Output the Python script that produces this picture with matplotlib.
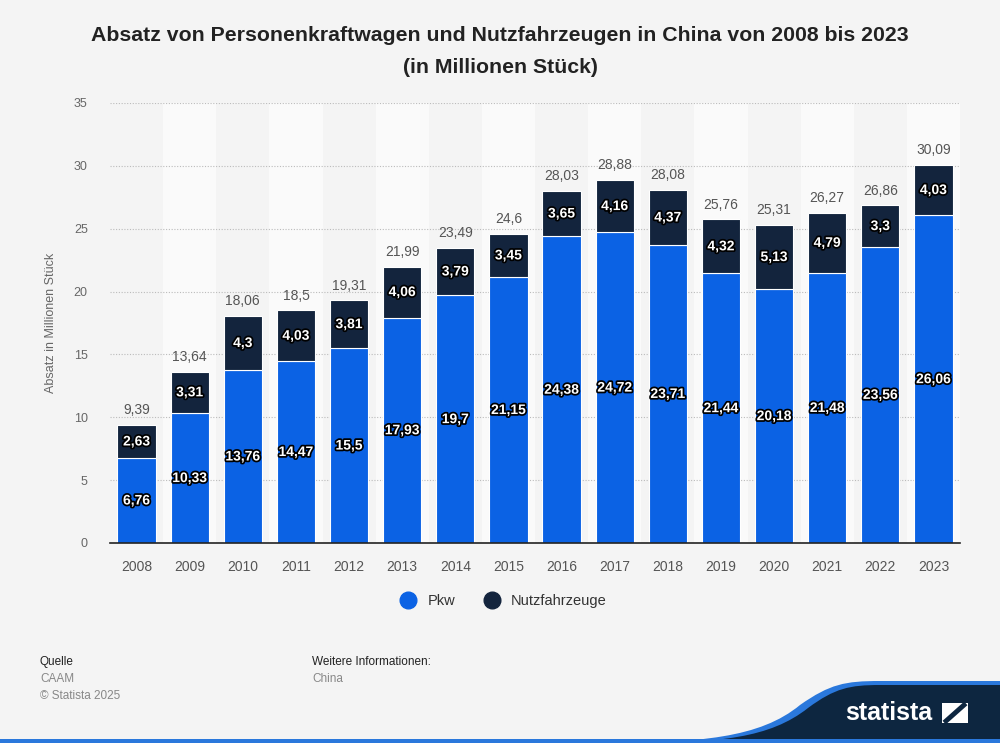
import matplotlib
matplotlib.use("Agg")
import matplotlib.pyplot as plt
import matplotlib.patheffects as pe
from matplotlib.path import Path
from matplotlib.patches import PathPatch, Rectangle

years = ["2008", "2009", "2010", "2011", "2012", "2013", "2014", "2015",
         "2016", "2017", "2018", "2019", "2020", "2021", "2022", "2023"]
pkw = [6.76, 10.33, 13.76, 14.47, 15.5, 17.93, 19.7, 21.15,
       24.38, 24.72, 23.71, 21.44, 20.18, 21.48, 23.56, 26.06]
nfz = [2.63, 3.31, 4.3, 4.03, 3.81, 4.06, 3.79, 3.45,
       3.65, 4.16, 4.37, 4.32, 5.13, 4.79, 3.3, 4.03]
totals = [9.39, 13.64, 18.06, 18.5, 19.31, 21.99, 23.49, 24.6,
          28.03, 28.88, 28.08, 25.76, 25.31, 26.27, 26.86, 30.09]

BLUE = "#0b62e4"
NAVY = "#13243d"
BG = "#f4f4f4"


def de(v):
    return f"{v:g}".replace(".", ",")


plt.rcParams["font.family"] = ["Liberation Sans", "DejaVu Sans"]

fig = plt.figure(figsize=(10, 7.43), dpi=100, facecolor=BG)

# footer / logo layer in pixel coords
bg = fig.add_axes([0, 0, 1, 1], zorder=0)
bg.set_xlim(0, 1000)
bg.set_ylim(743, 0)
bg.axis("off")
bg.set_facecolor(BG)

wave = Path([(600, 743), (700, 743), (760, 738), (800, 705),
             (830, 684), (845, 681), (880, 681), (1000, 681),
             (1000, 743), (600, 743)],
            [Path.MOVETO, Path.CURVE4, Path.CURVE4, Path.CURVE4,
             Path.CURVE4, Path.CURVE4, Path.CURVE4, Path.LINETO,
             Path.LINETO, Path.CLOSEPOLY])
bg.add_patch(PathPatch(wave, facecolor="#2a78dc", edgecolor="none"))
navy = Path([(630, 743), (720, 743), (770, 738), (808, 708),
             (835, 688), (850, 685), (880, 685), (1000, 685),
             (1000, 743), (630, 743)],
            [Path.MOVETO, Path.CURVE4, Path.CURVE4, Path.CURVE4,
             Path.CURVE4, Path.CURVE4, Path.CURVE4, Path.LINETO,
             Path.LINETO, Path.CLOSEPOLY])
bg.add_patch(PathPatch(navy, facecolor="#0d2640", edgecolor="none"))
bg.add_patch(Rectangle((0, 739), 1000, 4, facecolor="#2a78dc", edgecolor="none"))
bg.text(889, 713, "statista", color="white", fontsize=18, fontweight="bold",
        ha="center", va="center")
bg.add_patch(Rectangle((942, 703), 26, 20, facecolor="white", edgecolor="none"))
bg.plot([946, 964], [721, 705], color="#0d2640", lw=3.5)

bg.text(40, 662, "Quelle", fontsize=8.5, color="#222222", va="center")
bg.text(40, 679, "CAAM", fontsize=8.5, color="#888888", va="center")
bg.text(40, 696, "© Statista 2025", fontsize=8.5, color="#888888", va="center")
bg.text(312, 662, "Weitere Informationen:", fontsize=8.5, color="#222222", va="center")
bg.text(312, 679, "China", fontsize=8.5, color="#888888", va="center")

fig.text(0.5, 0.952, "Absatz von Personenkraftwagen und Nutzfahrzeugen in China von 2008 bis 2023",
         ha="center", va="center", fontsize=15.3, fontweight="bold", color="#222222")
fig.text(0.5, 0.909, "(in Millionen Stück)",
         ha="center", va="center", fontsize=15.3, fontweight="bold", color="#222222")

ax = fig.add_axes([0.11, 0.2692, 0.85, 0.5922], zorder=1)
ax.set_facecolor("none")
x = list(range(len(years)))

for i in x:
    if i % 2 == 1:
        ax.axvspan(i - 0.5, i + 0.5, color="#fafafa", zorder=0, lw=0)

ax.bar(x, pkw, width=0.72, color=BLUE, edgecolor="white", linewidth=0.8, zorder=2, label="Pkw")
ax.bar(x, nfz, width=0.72, bottom=pkw, color=NAVY, edgecolor="white", linewidth=0.8,
       zorder=2, label="Nutzfahrzeuge")

stroke = [pe.withStroke(linewidth=2.5, foreground="black")]
for i in x:
    ax.text(i, pkw[i] / 2, de(pkw[i]), ha="center", va="center", color="white",
            fontsize=10, fontweight="bold", path_effects=stroke, zorder=4)
    ax.text(i, pkw[i] + nfz[i] / 2, de(nfz[i]), ha="center", va="center", color="white",
            fontsize=10, fontweight="bold", path_effects=stroke, zorder=4)
    ax.text(i, totals[i] + 0.6, de(totals[i]), ha="center", va="bottom",
            color="#555555", fontsize=10, zorder=4)

ax.set_xlim(-0.5, len(years) - 0.5)
ax.set_ylim(0, 35)
ax.set_yticks(range(0, 36, 5))
ax.set_xticks(x)
ax.set_xticklabels(years)
ax.yaxis.grid(True, linestyle=(0, (1, 1.5)), color="#bbbbbb", linewidth=0.8, zorder=1)
ax.set_axisbelow(True)
for s in ["top", "right", "left"]:
    ax.spines[s].set_visible(False)
ax.spines["bottom"].set_color("#222222")
ax.spines["bottom"].set_linewidth(1.2)
ax.tick_params(axis="y", length=0, labelsize=9, labelcolor="#666666", pad=16)
ax.tick_params(axis="x", length=0, labelsize=10, labelcolor="#555555", pad=12)
ax.set_ylabel("Absatz in Millionen Stück", fontsize=9, color="#666666", labelpad=12)

leg = fig.legend(handles=[
    plt.Line2D([], [], marker="o", ls="", color=BLUE, markersize=12, label="Pkw"),
    plt.Line2D([], [], marker="o", ls="", color=NAVY, markersize=12, label="Nutzfahrzeuge")],
    loc="center", bbox_to_anchor=(0.5, 0.191), ncol=2, frameon=False,
    fontsize=10.5, handletextpad=0.3, columnspacing=1.5)
for t in leg.get_texts():
    t.set_color("#333333")

fig.savefig("out.png", dpi=100, facecolor=BG)
